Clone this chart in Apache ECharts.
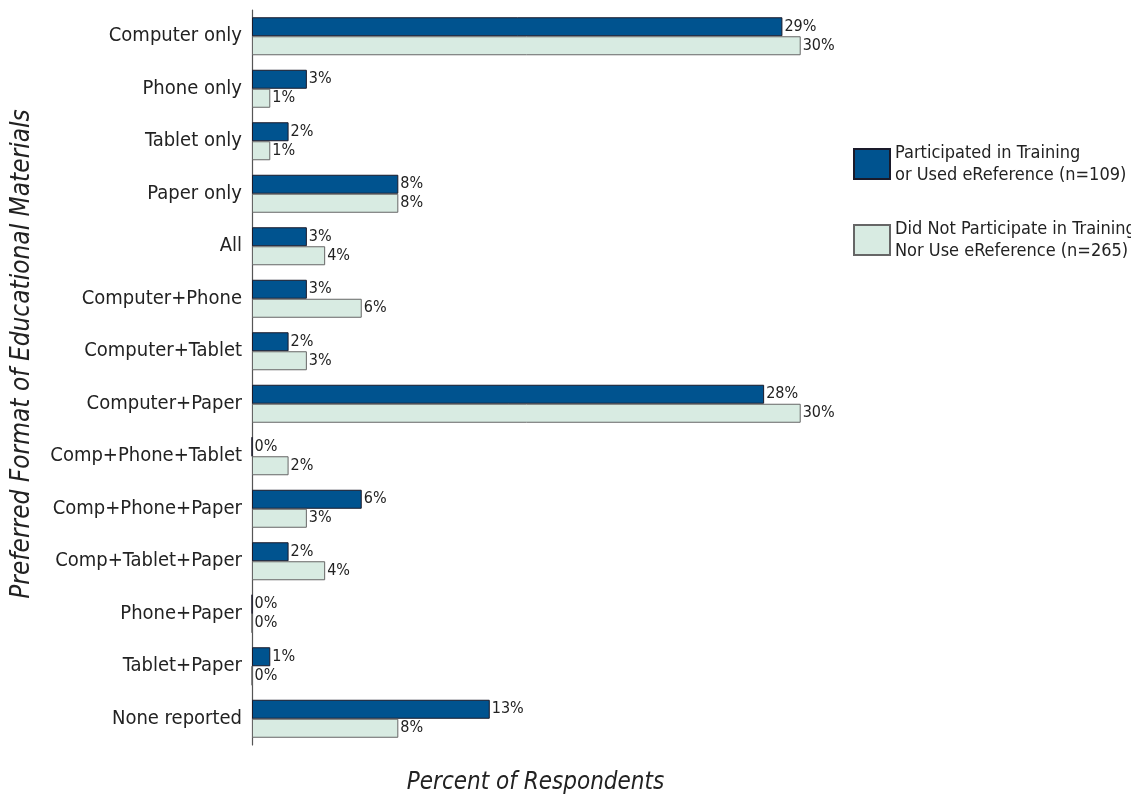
<!DOCTYPE html>
<html>
<head>
<meta charset="utf-8">
<script src="https://cdn.jsdelivr.net/npm/echarts@6/dist/echarts.min.js"></script>
<style>
  html, body { margin: 0; padding: 0; background: #fff; }
  #chart { width: 1131px; height: 797px; }
</style>
</head>
<body>
<div id="chart"></div>
<script>
// Preferred format categories, top to bottom
const categories = [
  'Computer only', 'Phone only', 'Tablet only', 'Paper only', 'All',
  'Computer+Phone', 'Computer+Tablet', 'Computer+Paper', 'Comp+Phone+Tablet',
  'Comp+Phone+Paper', 'Comp+Tablet+Paper', 'Phone+Paper', 'Tablet+Paper', 'None reported'
];

// Percent of respondents
const trainedValues = [29, 3, 2, 8, 3, 3, 2, 28, 0, 6, 2, 0, 1, 13];
const untrainedValues = [30, 1, 1, 8, 4, 6, 3, 30, 2, 3, 4, 0, 0, 8];

const trainedName = 'Participated in Training\nor Used eReference (n=109)';
const untrainedName = 'Did Not Participate in Training\nNor Use eReference (n=265)';

const font = '"Liberation Sans Narrow", "DejaVu Sans Condensed", sans-serif';
const textColor = '#222';

const chart = echarts.init(document.getElementById('chart'), null, { renderer: 'canvas' });

const valueLabel = {
  show: true,
  position: 'right',
  distance: 2,
  formatter: '{c}%',
  fontFamily: font,
  fontSize: 16,
  color: textColor
};

const option = {
  backgroundColor: '#fff',
  animation: false,
  grid: { left: 252, right: 312, top: 10, bottom: 52, outerBoundsMode: 'none' },
  legend: {
    orient: 'vertical',
    left: 848,
    top: 137,
    icon: 'rect',
    itemWidth: 36,
    itemHeight: 30,
    itemGap: 32,
    textStyle: { fontFamily: font, fontSize: 18, color: textColor, lineHeight: 22 },
    data: [trainedName, untrainedName]
  },
  xAxis: {
    type: 'value',
    min: 0,
    max: 31,
    axisLine: { show: false },
    axisTick: { show: false },
    axisLabel: { show: false },
    splitLine: { show: false },
    name: 'Percent of Respondents',
    nameLocation: 'middle',
    nameGap: 26,
    nameTextStyle: { fontFamily: font, fontSize: 24, fontStyle: 'italic', color: textColor }
  },
  yAxis: {
    type: 'category',
    inverse: true,
    data: categories,
    axisLine: { show: true, lineStyle: { color: '#555', width: 1.2 } },
    axisTick: { show: false },
    axisLabel: { fontFamily: font, fontSize: 20, color: textColor, margin: 10 }
  },
  graphic: [{
    type: 'text',
    x: 22,
    y: 354,
    rotation: Math.PI / 2,
    style: {
      text: 'Preferred Format of Educational Materials',
      fontFamily: font,
      fontSize: 26,
      fontStyle: 'italic',
      fill: textColor,
      align: 'center',
      verticalAlign: 'middle'
    }
  }],
  series: [
    {
      name: trainedName,
      type: 'bar',
      data: trainedValues,
      barWidth: 19,
      barGap: '0%',
      itemStyle: { color: '#00538f', borderColor: '#1a1a2a', borderWidth: 1 },
      label: valueLabel
    },
    {
      name: untrainedName,
      type: 'bar',
      data: untrainedValues,
      barWidth: 19,
      barGap: '0%',
      itemStyle: { color: '#d8ebe2', borderColor: '#666', borderWidth: 1 },
      label: valueLabel
    }
  ]
};

chart.setOption(option);
</script>
</body>
</html>
